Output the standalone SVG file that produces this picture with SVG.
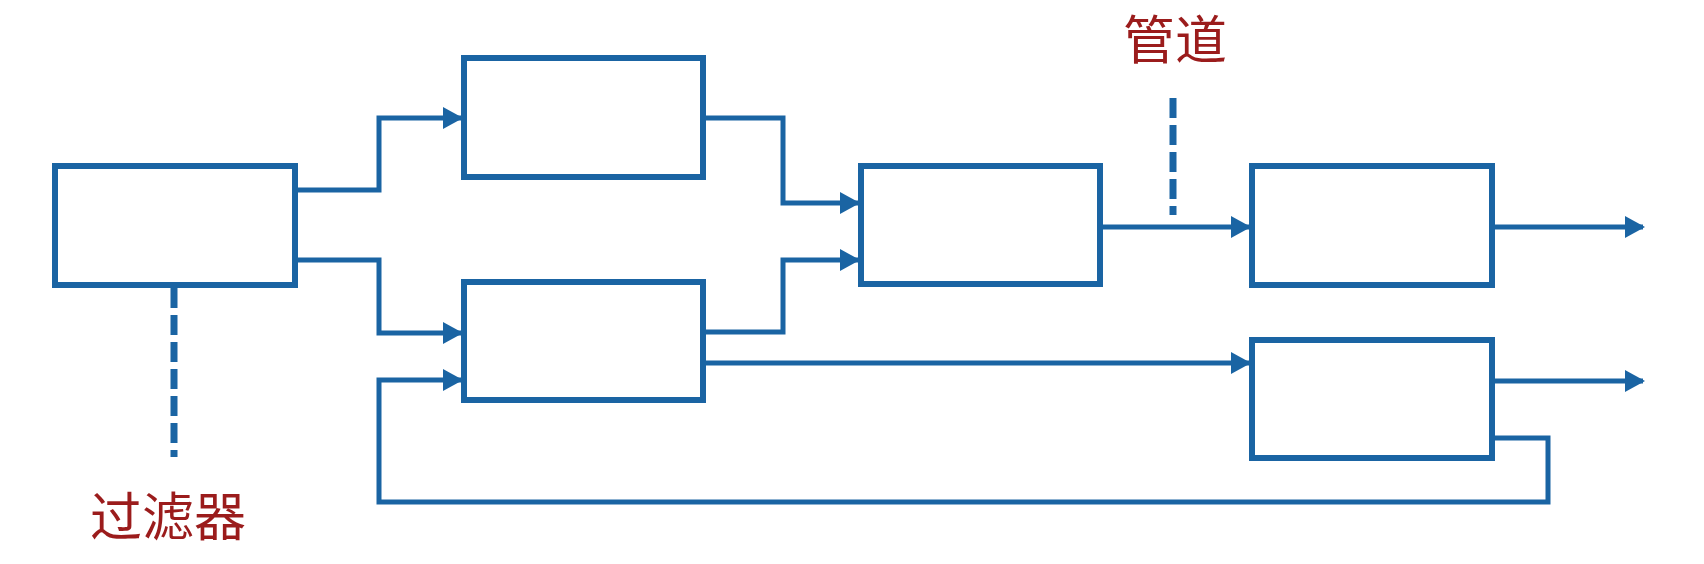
<svg xmlns="http://www.w3.org/2000/svg" width="1704" height="564" viewBox="0 0 1704 564">
<style>
.box{fill:#fff;stroke:#1a64a3;stroke-width:6}
.con{fill:none;stroke:#1a64a3;stroke-width:5;stroke-linejoin:miter}
.dash{fill:none;stroke:#1a64a3;stroke-width:7;stroke-dasharray:20 7}
.lbl{fill:#9b1c1c;font-family:"Noto Sans CJK SC","Noto Sans",sans-serif;font-size:52px;text-anchor:middle}
</style>
<defs>
<marker id="ah" markerUnits="userSpaceOnUse" markerWidth="20" markerHeight="22" refX="18" refY="11" orient="auto">
<path d="M0,0 L20,11 L0,22 z" fill="#1a64a3"/>
</marker>
</defs>
<rect width="1704" height="564" fill="#fff"/>
<g id="connectors">
<path class="con" d="M295,190 H379 V118 H461" style="marker-end:url(#ah)"/>
<path class="con" d="M295,260 H379 V333 H461" style="marker-end:url(#ah)"/>
<path class="con" d="M703,118 H783 V203 H858" style="marker-end:url(#ah)"/>
<path class="con" d="M703,332 H783 V260 H858" style="marker-end:url(#ah)"/>
<path class="con" d="M703,363 H1249" style="marker-end:url(#ah)"/>
<path class="con" d="M1100,227 H1249" style="marker-end:url(#ah)"/>
<path class="con" d="M1492,227 H1643" style="marker-end:url(#ah)"/>
<path class="con" d="M1492,381 H1643" style="marker-end:url(#ah)"/>
<path class="con" d="M1492,438 H1548 V502 H379 V380 H461" style="marker-end:url(#ah)"/>
<path class="dash" d="M174,288 V457"/>
<path class="dash" d="M1173,98 V215"/>
</g>
<g id="n1"><rect class="box" x="55" y="166" width="240" height="119"/></g>
<g id="n2"><rect class="box" x="464" y="58" width="239" height="119"/></g>
<g id="n3"><rect class="box" x="464" y="282" width="239" height="118"/></g>
<g id="n4"><rect class="box" x="861" y="166" width="239" height="118"/></g>
<g id="n5"><rect class="box" x="1252" y="166" width="240" height="119"/></g>
<g id="n6"><rect class="box" x="1252" y="340" width="240" height="118"/></g>
<g id="label-pipe"><text class="lbl" x="1175" y="59">管道</text></g>
<g id="label-filter"><text class="lbl" x="168" y="536">过滤器</text></g>
</svg>
